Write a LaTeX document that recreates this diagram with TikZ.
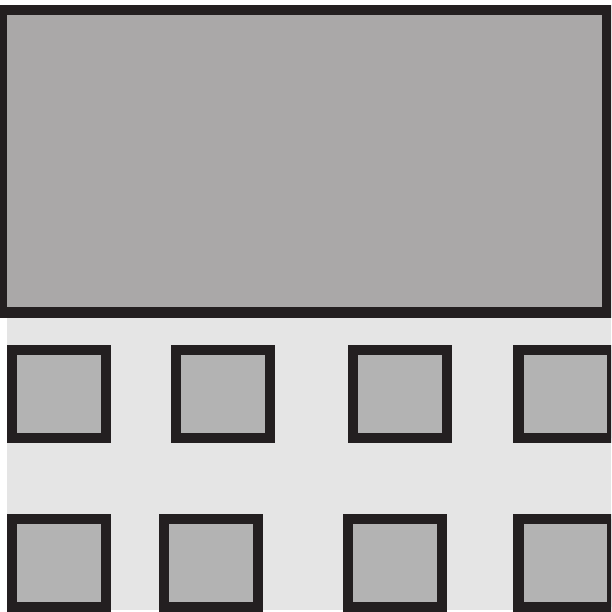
\documentclass[tikz,border=0pt]{standalone}
\definecolor{edgedark}{HTML}{231F20}
\definecolor{bigfill}{HTML}{AAA8A8}
\definecolor{boxfill}{HTML}{B3B3B3}
\definecolor{panelbg}{HTML}{E5E5E5}
\tikzset{
  cell/.style={draw=edgedark, fill=boxfill, line width=10.4pt},
  bigpanel/.style={draw=edgedark, fill=bigfill, line width=10.3pt},
}
\begin{document}
\begin{tikzpicture}[x=1pt,y=-1pt]
\useasboundingbox (0,0) rectangle (611,612);
\clip (0,0) rectangle (611,612);
\fill[white] (0,0) rectangle (611,612);
% light background
\fill[panelbg] (7,316) rectangle (611,609.5);
% big panel
\draw[bigpanel] (2.2,10.2) rectangle (606.8,312.5);
% row 1
\draw[cell] (12.2,350.2) rectangle (105.9,438.1);
\draw[cell] (175.9,350.2) rectangle (269.8,438.1);
\draw[cell] (353.2,350.2) rectangle (447.1,438.1);
\draw[cell] (518.5,350.2) rectangle (612.6,438.1);
% row 2
\draw[cell] (12.2,519.2) rectangle (105.9,606.7);
\draw[cell] (163.9,519.2) rectangle (257.8,606.7);
\draw[cell] (348.2,519.2) rectangle (441.8,606.7);
\draw[cell] (518.5,519.2) rectangle (612.6,606.7);
\end{tikzpicture}
\end{document}
